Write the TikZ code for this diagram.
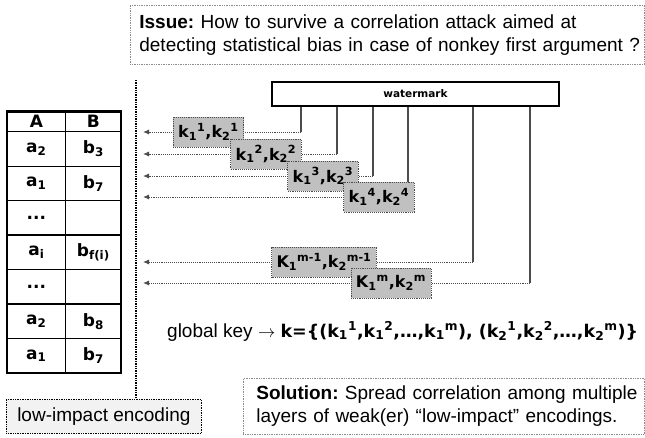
\documentclass[tikz,border=0pt]{standalone}
\usepackage{fontspec}
\setmainfont{Liberation Sans}
\newfontfamily\verdanaFont{DejaVu Sans}
\usetikzlibrary{arrows.meta}
\definecolor{keyGray}{RGB}{192,192,192}
\definecolor{noteGray}{RGB}{242,242,242}
\newcommand{\keyPair}[3]{#1\textsubscript{1}\textsuperscript{#2},k\textsubscript{2}\textsuperscript{#3}}
\newcommand{\keyLayer}[5]{%%
  %% A tap on the watermark.
  \coordinate (tap#1) at (#2,0 |- watermark.south);
  \coordinate (bend#1) at (#2,#3);
  \coordinate (end#1) at (\xend,#3);
  \draw[tapStyle] (tap#1) -- (bend#1);
  %% The key goes back to the table.
  \draw[arrowStyle] (bend#1) -- (end#1);
  \node[keyStyle] (key#1) at (#4,#3) {#5};
}

\begin{document}
\frenchspacing
\begin{tikzpicture}[%%
  x=1pt,y=-1pt,
  tableStyle/.style={line width=2.5pt},%%
  gridStyle/.style={line width=1.3pt},%%
  cellStyle/.style={font=\verdanaFont\bfseries\fontsize{17}{20}\selectfont},%%
  tapStyle/.style={draw=black!70,line width=1.2pt},%%
  arrowStyle/.style={-{Latex[length=6pt,width=5pt]},densely dotted,draw=black!70,line width=0.9pt},%%
  keyStyle/.style={draw=black!70,densely dotted,line width=0.9pt,fill=keyGray,minimum height=30pt,inner xsep=5pt,font=\verdanaFont\bfseries\fontsize{16}{18}\selectfont},%%
  noteStyle/.style={draw=black!45,densely dotted,line width=0.7pt,fill=white,align=left,font=\fontsize{19}{23}\selectfont}
]
\useasboundingbox (0,0) rectangle (645,437);
%%
%%
\pgfmathsetmacro{\tabLeft}{7}
\pgfmathsetmacro{\tabMid}{65.7}
\pgfmathsetmacro{\tabRight}{121}
\pgfmathsetmacro{\tabTop}{111.7}
\pgfmathsetmacro{\tabHead}{131.7}
\pgfmathsetmacro{\rowH}{34.47}
\pgfmathsetmacro{\tabBottom}{\tabHead+7*\rowH}
\pgfmathsetmacro{\xend}{143}
%% The table.
\draw[tableStyle] (\tabLeft,\tabTop) rectangle (\tabRight,\tabBottom);
\draw[gridStyle] (\tabMid,\tabTop) -- (\tabMid,\tabBottom);
\foreach \i in {0,...,6}
  \draw[gridStyle] (\tabLeft,\tabHead+\i*\rowH) -- (\tabRight,\tabHead+\i*\rowH);
\node[cellStyle] (headA) at ({(\tabLeft+\tabMid)/2},{(\tabTop+\tabHead)/2}) {A};
\node[cellStyle] (headB) at ({(\tabMid+\tabRight)/2},{(\tabTop+\tabHead)/2}) {B};
\foreach \i/\acell/\bcell in {1/{a\textsubscript{2}}/{b\textsubscript{3}},%%
    2/{a\textsubscript{1}}/{b\textsubscript{7}},3/{...}/{},%%
    4/{a\textsubscript{i}}/{b\textsubscript{f(i)}},5/{...}/{},%%
    6/{a\textsubscript{2}}/{b\textsubscript{8}},7/{a\textsubscript{1}}/{b\textsubscript{7}}}{
  \node[cellStyle] (a\i) at ({(\tabLeft+\tabMid)/2},{\tabHead+(\i-0.5)*\rowH}) {\acell};
  \node[cellStyle] (b\i) at ({(\tabMid+\tabRight)/2},{\tabHead+(\i-0.5)*\rowH}) {\bcell};
}
%% The notes.
\node[noteStyle,anchor=north west,minimum width=514pt,minimum height=59pt,text width=496pt,inner xsep=9pt] (issue) at (130,5)
  {\mbox{\textbf{Issue:} How to survive a correlation attack aimed at}\\\mbox{detecting statistical bias in case of nonkey first argument ?}};
\node[noteStyle,anchor=north west,minimum width=401pt,minimum height=56pt,text width=375pt,inner xsep=13pt] (solution) at (243,378)
  {\mbox{\textbf{Solution:} Spread correlation among multiple}\\\mbox{layers of weak(er) \textquotedblleft low-impact\textquotedblright\ encodings.}};
\node[noteStyle,draw=black,fill=noteGray,anchor=north west,minimum width=195pt,minimum height=34pt,align=center] (impact) at (6,399)
  {low-impact encoding};
%% The divider.
\coordinate (dividerTop) at (136,80);
\draw[densely dotted,line width=1.4pt] (dividerTop) -- (dividerTop |- impact.north);
%% The watermark and its keys.
\node[draw,line width=2.5pt,minimum width=287pt,minimum height=24pt,font=\verdanaFont\bfseries\fontsize{10.5}{12}\selectfont] (watermark) at (415.5,94) {watermark};
\keyLayer{1}{301}{132}{208.5}{\keyPair{k}{1}{1}}
\keyLayer{2}{337}{154}{266}{\keyPair{k}{2}{2}}
\keyLayer{3}{373}{176}{323}{\keyPair{k}{3}{3}}
\keyLayer{4}{408}{197}{379}{\keyPair{k}{4}{4}}
\keyLayer{5}{473}{262}{324}{\keyPair{K}{m-1}{m-1}}
\keyLayer{6}{530}{283}{391}{\keyPair{K}{m}{m}}
%% The global key.
\node[anchor=base west,inner sep=0pt,font=\fontsize{19}{23}\selectfont] (globalKey) at (167,337)
  {global key $\rightarrow$ {\verdanaFont\bfseries\fontsize{17.5}{20}\selectfont k=\{(k\textsubscript{1}\textsuperscript{1},k\textsubscript{1}\textsuperscript{2},…,k\textsubscript{1}\textsuperscript{m}), (k\textsubscript{2}\textsuperscript{1},k\textsubscript{2}\textsuperscript{2},…,k\textsubscript{2}\textsuperscript{m})\}}};
\end{tikzpicture}
\end{document}
